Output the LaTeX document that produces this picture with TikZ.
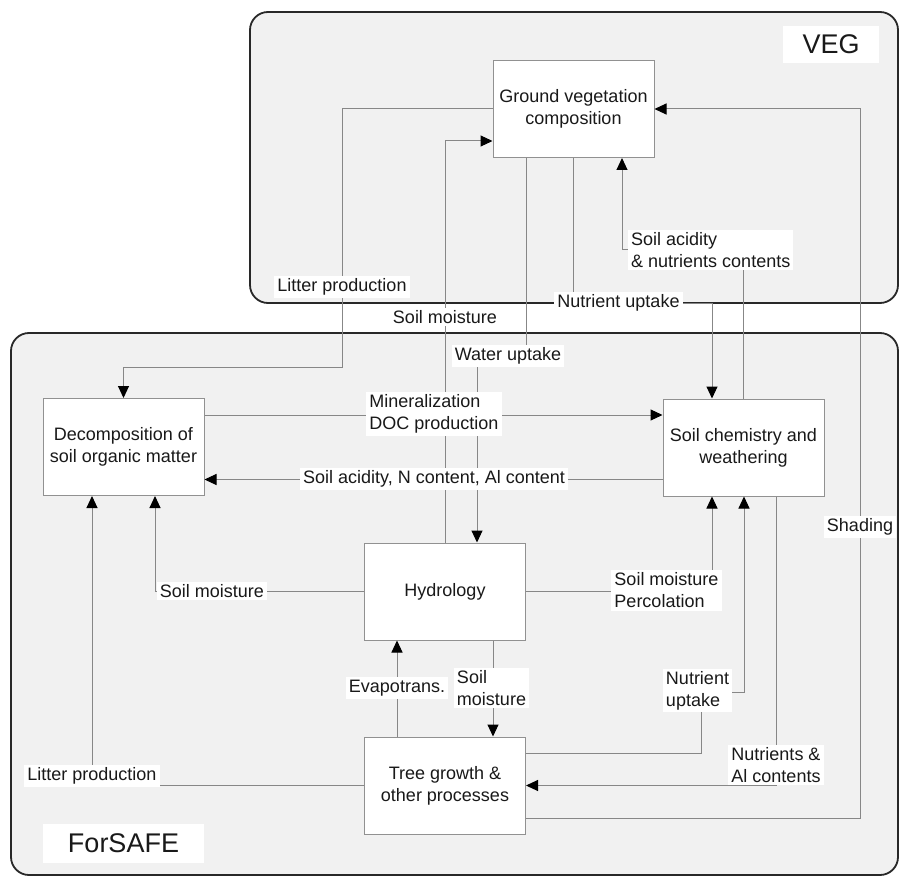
\documentclass[tikz,border=0pt]{standalone}
\usepackage{fontspec}
\setmainfont{Liberation Sans}
\usetikzlibrary{arrows.meta}
\definecolor{panelfill}{RGB}{241,241,241}
\definecolor{panelline}{RGB}{40,40,40}
\definecolor{connline}{RGB}{135,135,135}
\definecolor{boxline}{RGB}{145,145,145}
\definecolor{txt}{RGB}{25,25,25}
\begin{document}
\begin{tikzpicture}[x=1pt,y=-1pt,
  panel/.style={draw=panelline,fill=panelfill,line width=1.8pt,rounded corners=18pt},
  proc/.style={draw=boxline,fill=white,line width=1pt,minimum width=161pt,minimum height=97pt,inner sep=0pt,align=center,text=txt,font=\fontsize{18}{22}\selectfont},
  conn/.style={draw=connline,line width=1pt},
  arr/.style={-{Triangle[length=12pt,width=11pt,color=black]}},
  lbl/.style={fill=white,inner xsep=3pt,inner ysep=2.5pt,text=txt,font=\fontsize{18}{22}\selectfont},
  title/.style={fill=white,inner sep=0pt,text=txt,font=\fontsize{27}{30}\selectfont}
]
\useasboundingbox (0,0) rectangle (899,877);
% panels
\draw[panel] (250,12) rectangle (898,303);
\draw[panel] (11,333) rectangle (898,875);
\node[title,minimum width=96pt,minimum height=37pt] (veg) at (831,44.5) {VEG};
\node[title,minimum width=161pt,minimum height=39pt] (forsafe) at (123.5,843.5) {ForSAFE};
% process boxes
\node[proc] (gv) at (573.5,109) {Ground vegetation\\composition};
\node[proc] (dec) at (123.5,447) {Decomposition of\\soil organic matter};
\node[proc] (sc) at (743.5,447.5) {Soil chemistry and\\weathering};
\node[proc] (hyd) at (445,591.5) {Hydrology};
\node[proc] (tree) at (445,785.5) {Tree growth \&\\other processes};
% corner coordinates
\coordinate (lpc) at (342,367);
\coordinate (wuc) at (526,356);
\coordinate (nuc) at (573.5,303);
\coordinate (sac) at (743.5,250);
\coordinate (nu2c) at (701,692);
\coordinate (shc) at (860,109);
% connectors
\draw[conn,arr] (gv.west) -| (lpc) -| (dec.north);
\draw[conn,arr] (hyd.north) |- ([yshift=-32pt]gv.west);
\draw[conn,arr] ([xshift=-47.5pt]gv.south) -- (wuc) -| ([xshift=32pt]hyd.north);
\draw[conn,arr] (gv.south) -- (nuc) -| ([xshift=-31.5pt]sc.north);
\draw[conn,arr] (sc.north) -- (sac) -| ([xshift=48.5pt]gv.south);
\draw[conn,arr] ([yshift=32pt]dec.east) coordinate (m1) -- (m1 -| sc.west);
\draw[conn,arr] ([yshift=-32pt]sc.west) coordinate (s1) -- (s1 -| dec.east);
\draw[conn,arr] (hyd.west) -| ([xshift=31.5pt]dec.south);
\draw[conn,arr] (tree.west) -| ([xshift=-31.5pt]dec.south);
\draw[conn,arr] ([xshift=-48pt]tree.north) -- ([xshift=-48pt]hyd.south);
\draw[conn,arr] ([xshift=48pt]hyd.south) -- ([xshift=48pt]tree.north);
\draw[conn,arr] (hyd.east) -| ([xshift=-31.5pt]sc.south);
\draw[conn,arr] ([yshift=32pt]tree.east) -| (nu2c) -| ([xshift=0.5pt]sc.south);
\draw[conn,arr] ([xshift=32.5pt]sc.south) |- (tree.east);
\draw[conn,arr] ([yshift=-32.5pt]tree.east) -| (shc) -- (gv.east);
% labels
\node[lbl] (l1) at (342,287) {Litter production};
\node[lbl] (l2) at (445,317) {Soil moisture};
\node[lbl] (l3) at (508,356) {Water uptake};
\node[lbl] (l4) at (618.5,303) {Nutrient uptake};
\node[lbl,align=left,anchor=west] (l5) at (628,250) {Soil acidity\\\& nutrients contents};
\node[lbl,align=left] (l6) at (434,414) {Mineralization\\DOC production};
\node[lbl] (l7) at (434,479) {Soil acidity, N content, Al content};
\node[lbl] (l8) at (212,591) {Soil moisture};
\node[lbl] (l9) at (92,776) {Litter production};
\node[lbl] (l10) at (397,688) {Evapotrans.};
\node[lbl,align=left] (l11) at (491.5,688) {Soil\\moisture};
\node[lbl,align=left] (l12) at (666.5,590.5) {Soil moisture\\Percolation};
\node[lbl,align=left] (l13) at (697.5,690.5) {Nutrient\\uptake};
\node[lbl,align=left] (l14) at (776,765) {Nutrients \&\\Al contents};
\node[lbl] (l15) at (860,527) {Shading};
\end{tikzpicture}
\end{document}
